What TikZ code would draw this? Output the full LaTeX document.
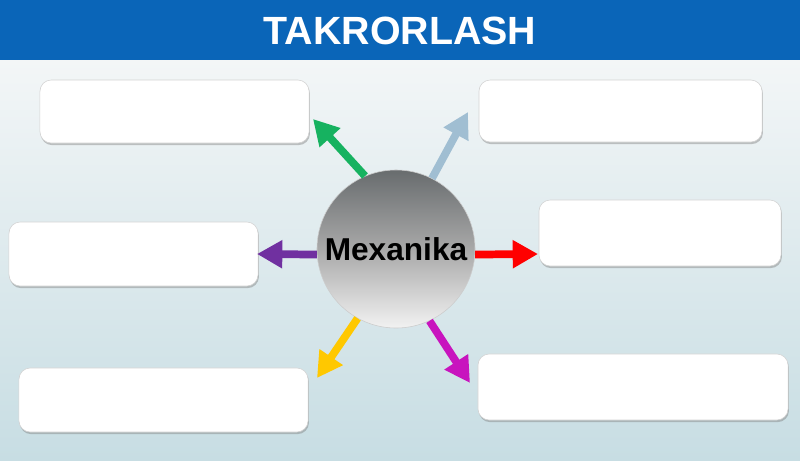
\documentclass[tikz,border=0pt]{standalone}
\usepackage{fontspec}
\setmainfont{Liberation Sans}
\usepackage{tikz}
\usetikzlibrary{positioning,arrows.meta,shadows}

\definecolor{headblue}{RGB}{10,101,184}
\definecolor{bgtop}{RGB}{243,246,247}
\definecolor{bgbot}{RGB}{199,221,227}
\definecolor{ballt}{RGB}{104,108,110}
\definecolor{ballb}{RGB}{242,242,242}
\definecolor{agreen}{RGB}{22,178,96}
\definecolor{ablue}{RGB}{160,190,210}
\definecolor{apurple}{RGB}{112,48,160}
\definecolor{ared}{RGB}{255,0,0}
\definecolor{ayellow}{RGB}{255,200,0}
\definecolor{amagenta}{RGB}{200,20,190}

\tikzset{
    emptybox/.style={rectangle, rounded corners=8pt, draw=gray!35, fill=white,
        drop shadow={shadow xshift=0.6pt, shadow yshift=-1.5pt, opacity=0.45}},
    ray/.style={line width=5.5pt, -{Triangle[length=18pt, width=19pt]}}
}

\begin{document}
\begin{tikzpicture}[x=0.025cm, y=-0.025cm]
    % background and header band
    \path[top color=bgtop, bottom color=bgbot] (0,60) rectangle (800,460);
    \fill[headblue] (0,0) rectangle (800,60);
    \useasboundingbox (0,0) rectangle (800,460);
    \node[text=white, font=\bfseries\fontsize{28}{32}\selectfont] (title) at (400,31) {TAKRORLASH};

    % centre ball
    \node[circle, minimum size=3.95cm, draw=gray!40, top color=ballt, bottom color=ballb,
        middle color=gray!68, font=\bfseries\fontsize{22.5}{26}\selectfont] (mex) at (396,249) {Mexanika};

    % answer boxes
    \node[emptybox, minimum width=6.725cm, minimum height=1.575cm] (tl) at (174.5,111.5) {};
    \node[emptybox, minimum width=7.075cm, minimum height=1.55cm] (tr) at (620.5,111) {};
    \node[emptybox, minimum width=6.225cm, minimum height=1.6cm] (ml) at (133.5,254) {};
    \node[emptybox, minimum width=6.05cm, minimum height=1.65cm] (mr) at (660,233) {};
    \node[emptybox, minimum width=7.225cm, minimum height=1.6cm] (bl) at (163.5,400) {};
    \node[emptybox, minimum width=7.75cm, minimum height=1.65cm] (br) at (633,387) {};

    % arrow tips
    \coordinate (tipA) at (313,119);
    \coordinate (tipB) at (468,112);
    \coordinate (tipC) at (257,254);
    \coordinate (tipD) at (538,254);
    \coordinate (tipE) at (317,378);
    \coordinate (tipF) at (470,383);

    % rays
    \draw[ray, agreen] (mex.113) -- (tipA);
    \draw[ray, ablue] (mex.63) -- (tipB);
    \draw[ray, apurple] (mex.184) -- (tipC);
    \draw[ray, ared] (mex.356) -- (tipD);
    \draw[ray, ayellow] (mex.241) -- (tipE);
    \draw[ray, amagenta] (mex.295) -- (tipF);
\end{tikzpicture}
\end{document}
